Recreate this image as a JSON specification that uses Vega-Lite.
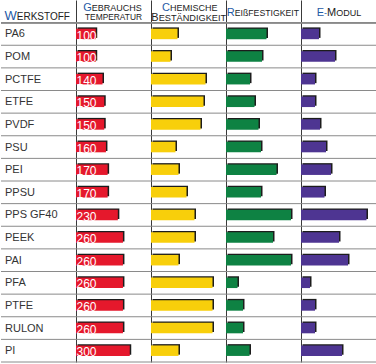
{
  "$schema": "https://vega.github.io/schema/vega-lite/v6.json",
  "padding": 0,
  "spacing": 0,
  "bounds": "flush",
  "background": "white",
  "config": {"view": {"stroke": null}, "font": "Liberation Sans", "text": {"font": "Liberation Sans"}},
  "datasets": {
    "werkstoffe": [
      {"name": "PA6", "temp": 100, "chem": 26.5, "reiss": 40.5, "emod": 18},
      {"name": "POM", "temp": 100, "chem": 19.5, "reiss": 36, "emod": 34},
      {"name": "PCTFE", "temp": 140, "chem": 54.5, "reiss": 24, "emod": 14},
      {"name": "ETFE", "temp": 150, "chem": 52.5, "reiss": 28.5, "emod": 14},
      {"name": "PVDF", "temp": 150, "chem": 49.5, "reiss": 32.5, "emod": 19},
      {"name": "PSU", "temp": 160, "chem": 24.5, "reiss": 35, "emod": 25},
      {"name": "PEI", "temp": 170, "chem": 27.5, "reiss": 50.5, "emod": 30},
      {"name": "PPSU", "temp": 170, "chem": 35.5, "reiss": 35, "emod": 23.5},
      {"name": "PPS GF40", "temp": 230, "chem": 43.5, "reiss": 65, "emod": 65.5},
      {"name": "PEEK", "temp": 260, "chem": 43.5, "reiss": 47, "emod": 38},
      {"name": "PAI", "temp": 260, "chem": 27.5, "reiss": 65, "emod": 47},
      {"name": "PFA", "temp": 260, "chem": 61.5, "reiss": 11.5, "emod": 9},
      {"name": "PTFE", "temp": 260, "chem": 61.5, "reiss": 17, "emod": 14},
      {"name": "RULON", "temp": 260, "chem": 61.5, "reiss": 17, "emod": 14},
      {"name": "PI", "temp": 300, "chem": 27.5, "reiss": 23.5, "emod": 41}
    ]
  },
  "data": {"name": "werkstoffe"},
  "hconcat": [
    {
      "width": 75, "height": 362,
      "layer": [
        {
          "mark": {"type": "rule", "color": "#8a8a8a", "strokeWidth": 1},
          "encoding": {
            "y": {"field": "name", "type": "nominal", "sort": null, "bandPosition": 1,
              "scale": {"domain": ["Werkstoff","PA6","POM","PCTFE","ETFE","PVDF","PSU","PEI","PPSU","PPS GF40","PEEK","PAI","PFA","PTFE","RULON","PI"], "paddingInner": 0, "paddingOuter": 0},
              "axis": {"grid": false, "labels": false, "ticks": false, "domain": false, "title": null, "minExtent": 0, "maxExtent": 0}}
          }
        },
        {
          "mark": {"type": "rule", "color": "#8a8a8a", "strokeWidth": 1},
          "encoding": {"y": {"datum": "Werkstoff", "type": "nominal", "bandPosition": 1}}
        },
        {
          "mark": {"type": "text", "align": "left", "baseline": "middle", "fontSize": 11, "color": "#333333", "dy": 0.5},
          "encoding": {
            "y": {"field": "name", "type": "nominal", "sort": null},
            "x": {"value": 4},
            "text": {"field": "name"}
          }
        },
        {
          "data": {"values": [{"label": "W"}]},
          "mark": {"type": "text", "align": "right", "baseline": "alphabetic", "fontSize": 13, "color": "#1f5aa6", "dy": 8.7},
          "encoding": {"y": {"datum": "Werkstoff", "type": "nominal"}, "x": {"value": 15.8}, "text": {"field": "label"}}
        },
        {
          "data": {"values": [{"label": "ERKSTOFF"}]},
          "mark": {"type": "text", "align": "left", "baseline": "alphabetic", "fontSize": 10, "color": "#222222", "dy": 8.7},
          "encoding": {"y": {"datum": "Werkstoff", "type": "nominal"}, "x": {"value": 15.8}, "text": {"field": "label"}}
        }
      ]
    },
    {
      "width": 75, "height": 362,
      "layer": [
        {
          "mark": {"type": "rule", "color": "#8a8a8a", "strokeWidth": 1},
          "encoding": {
            "y": {"field": "name", "type": "nominal", "sort": null, "bandPosition": 1,
              "scale": {"domain": ["Werkstoff","PA6","POM","PCTFE","ETFE","PVDF","PSU","PEI","PPSU","PPS GF40","PEEK","PAI","PFA","PTFE","RULON","PI"], "paddingInner": 0, "paddingOuter": 0},
              "axis": {"grid": false, "labels": false, "ticks": false, "domain": true, "title": null, "domainColor": "#3a3a3a", "domainWidth": 1, "minExtent": 0, "maxExtent": 0}}
          }
        },
        {
          "mark": {"type": "rule", "color": "#8a8a8a", "strokeWidth": 1},
          "encoding": {"y": {"datum": "Werkstoff", "type": "nominal", "bandPosition": 1}}
        },
        {
          "mark": {"type": "bar", "height": 10.5, "color": "#1c1c1c", "xOffset": 1.5, "x2Offset": 1.5, "yOffset": -1.3},
          "encoding": {
            "y": {"field": "name", "type": "nominal", "sort": null},
            "x": {"field": "temp", "type": "quantitative", "scale": {"domain": [-16, 425], "zero": false, "nice": false}, "axis": null},
            "x2": {"datum": -16}
          }
        },
        {
          "mark": {"type": "bar", "height": 10.5, "color": "#e5182c"},
          "encoding": {
            "y": {"field": "name", "type": "nominal", "sort": null},
            "x": {"field": "temp", "type": "quantitative"},
            "x2": {"datum": -16}
          }
        },
        {
          "mark": {"type": "text", "align": "left", "baseline": "alphabetic", "fontSize": 12, "color": "white", "dx": 0.5, "dy": 5.6},
          "encoding": {
            "y": {"field": "name", "type": "nominal", "sort": null},
            "x": {"datum": -16, "type": "quantitative"},
            "text": {"field": "temp", "type": "quantitative"}
          }
        },
        {
          "data": {"values": [{"label": "G"}]},
          "mark": {"type": "text", "align": "right", "baseline": "alphabetic", "fontSize": 11, "color": "#1f5aa6", "dy": -0.3},
          "encoding": {"y": {"datum": "Werkstoff", "type": "nominal"}, "x": {"value": 15.7}, "text": {"field": "label"}}
        },
        {
          "data": {"values": [{"label": "EBRAUCHS"}]},
          "mark": {"type": "text", "align": "left", "baseline": "alphabetic", "fontSize": 9, "color": "#222222", "dy": -0.3},
          "encoding": {"y": {"datum": "Werkstoff", "type": "nominal"}, "x": {"value": 15.7}, "text": {"field": "label"}}
        },
        {
          "data": {"values": [{"label": "TEMPERATUR"}]},
          "mark": {"type": "text", "align": "center", "baseline": "alphabetic", "fontSize": 8.4, "color": "#222222", "dy": 8.7},
          "encoding": {"y": {"datum": "Werkstoff", "type": "nominal"}, "x": {"value": 37.5}, "text": {"field": "label"}}
        }
      ]
    },
    {
      "width": 75, "height": 362,
      "layer": [
        {
          "mark": {"type": "rule", "color": "#8a8a8a", "strokeWidth": 1},
          "encoding": {
            "y": {"field": "name", "type": "nominal", "sort": null, "bandPosition": 1,
              "scale": {"domain": ["Werkstoff","PA6","POM","PCTFE","ETFE","PVDF","PSU","PEI","PPSU","PPS GF40","PEEK","PAI","PFA","PTFE","RULON","PI"], "paddingInner": 0, "paddingOuter": 0},
              "axis": {"grid": false, "labels": false, "ticks": false, "domain": true, "title": null, "domainColor": "#3a3a3a", "domainWidth": 1, "minExtent": 0, "maxExtent": 0}}
          }
        },
        {
          "mark": {"type": "rule", "color": "#8a8a8a", "strokeWidth": 1},
          "encoding": {"y": {"datum": "Werkstoff", "type": "nominal", "bandPosition": 1}}
        },
        {
          "mark": {"type": "bar", "height": 10.5, "color": "#1c1c1c", "xOffset": 1.5, "x2Offset": 1.5, "yOffset": -1.3},
          "encoding": {
            "y": {"field": "name", "type": "nominal", "sort": null},
            "x": {"field": "chem", "type": "quantitative", "scale": {"domain": [0, 75], "nice": false}, "axis": null}
          }
        },
        {
          "mark": {"type": "bar", "height": 10.5, "color": "#f8cf0b"},
          "encoding": {
            "y": {"field": "name", "type": "nominal", "sort": null},
            "x": {"field": "chem", "type": "quantitative"}
          }
        },
        {
          "data": {"values": [{"label": "C"}]},
          "mark": {"type": "text", "align": "right", "baseline": "alphabetic", "fontSize": 11, "color": "#1f5aa6", "dy": -0.3},
          "encoding": {"y": {"datum": "Werkstoff", "type": "nominal"}, "x": {"value": 19}, "text": {"field": "label"}}
        },
        {
          "data": {"values": [{"label": "HEMISCHE"}]},
          "mark": {"type": "text", "align": "left", "baseline": "alphabetic", "fontSize": 9, "color": "#222222", "dy": -0.3},
          "encoding": {"y": {"datum": "Werkstoff", "type": "nominal"}, "x": {"value": 19}, "text": {"field": "label"}}
        },
        {
          "data": {"values": [{"label": "B"}]},
          "mark": {"type": "text", "align": "right", "baseline": "alphabetic", "fontSize": 11, "color": "#222222", "dy": 9.2},
          "encoding": {"y": {"datum": "Werkstoff", "type": "nominal"}, "x": {"value": 7.7}, "text": {"field": "label"}}
        },
        {
          "data": {"values": [{"label": "ESTÄNDIGKEIT"}]},
          "mark": {"type": "text", "align": "left", "baseline": "alphabetic", "fontSize": 9.2, "color": "#222222", "dy": 9.2},
          "encoding": {"y": {"datum": "Werkstoff", "type": "nominal"}, "x": {"value": 7.7}, "text": {"field": "label"}}
        }
      ]
    },
    {
      "width": 75, "height": 362,
      "layer": [
        {
          "mark": {"type": "rule", "color": "#8a8a8a", "strokeWidth": 1},
          "encoding": {
            "y": {"field": "name", "type": "nominal", "sort": null, "bandPosition": 1,
              "scale": {"domain": ["Werkstoff","PA6","POM","PCTFE","ETFE","PVDF","PSU","PEI","PPSU","PPS GF40","PEEK","PAI","PFA","PTFE","RULON","PI"], "paddingInner": 0, "paddingOuter": 0},
              "axis": {"grid": false, "labels": false, "ticks": false, "domain": true, "title": null, "domainColor": "#3a3a3a", "domainWidth": 1, "minExtent": 0, "maxExtent": 0}}
          }
        },
        {
          "mark": {"type": "rule", "color": "#8a8a8a", "strokeWidth": 1},
          "encoding": {"y": {"datum": "Werkstoff", "type": "nominal", "bandPosition": 1}}
        },
        {
          "mark": {"type": "bar", "height": 10.5, "color": "#1c1c1c", "xOffset": 1.5, "x2Offset": 1.5, "yOffset": -1.3},
          "encoding": {
            "y": {"field": "name", "type": "nominal", "sort": null},
            "x": {"field": "reiss", "type": "quantitative", "scale": {"domain": [0, 75], "nice": false}, "axis": null}
          }
        },
        {
          "mark": {"type": "bar", "height": 10.5, "color": "#0e8243"},
          "encoding": {
            "y": {"field": "name", "type": "nominal", "sort": null},
            "x": {"field": "reiss", "type": "quantitative"}
          }
        },
        {
          "data": {"values": [{"label": "R"}]},
          "mark": {"type": "text", "align": "right", "baseline": "alphabetic", "fontSize": 11, "color": "#1f5aa6", "dy": 4.7},
          "encoding": {"y": {"datum": "Werkstoff", "type": "nominal"}, "x": {"value": 8.8}, "text": {"field": "label"}}
        },
        {
          "data": {"values": [{"label": "EIßFESTIGKEIT"}]},
          "mark": {"type": "text", "align": "left", "baseline": "alphabetic", "fontSize": 8.7, "color": "#222222", "dy": 4.7},
          "encoding": {"y": {"datum": "Werkstoff", "type": "nominal"}, "x": {"value": 8.8}, "text": {"field": "label"}}
        }
      ]
    },
    {
      "width": 76, "height": 362,
      "layer": [
        {
          "mark": {"type": "rule", "color": "#8a8a8a", "strokeWidth": 1},
          "encoding": {
            "y": {"field": "name", "type": "nominal", "sort": null, "bandPosition": 1,
              "scale": {"domain": ["Werkstoff","PA6","POM","PCTFE","ETFE","PVDF","PSU","PEI","PPSU","PPS GF40","PEEK","PAI","PFA","PTFE","RULON","PI"], "paddingInner": 0, "paddingOuter": 0},
              "axis": {"grid": false, "labels": false, "ticks": false, "domain": true, "title": null, "domainColor": "#3a3a3a", "domainWidth": 1, "minExtent": 0, "maxExtent": 0}}
          }
        },
        {
          "mark": {"type": "rule", "color": "#8a8a8a", "strokeWidth": 1},
          "encoding": {"y": {"datum": "Werkstoff", "type": "nominal", "bandPosition": 1}}
        },
        {
          "mark": {"type": "bar", "height": 10.5, "color": "#1c1c1c", "xOffset": 1.5, "x2Offset": 1.5, "yOffset": -1.3},
          "encoding": {
            "y": {"field": "name", "type": "nominal", "sort": null},
            "x": {"field": "emod", "type": "quantitative", "scale": {"domain": [0, 76], "nice": false}, "axis": null}
          }
        },
        {
          "mark": {"type": "bar", "height": 10.5, "color": "#4e3592"},
          "encoding": {
            "y": {"field": "name", "type": "nominal", "sort": null},
            "x": {"field": "emod", "type": "quantitative"}
          }
        },
        {
          "data": {"values": [{"label": "E"}]},
          "mark": {"type": "text", "align": "left", "baseline": "alphabetic", "fontSize": 11, "color": "#1f5aa6", "dy": 4.7},
          "encoding": {"y": {"datum": "Werkstoff", "type": "nominal"}, "x": {"value": 15.8}, "text": {"field": "label"}}
        },
        {
          "data": {"values": [{"label": "-"}]},
          "mark": {"type": "text", "align": "left", "baseline": "alphabetic", "fontSize": 9, "color": "#1f5aa6", "dy": 4.7},
          "encoding": {"y": {"datum": "Werkstoff", "type": "nominal"}, "x": {"value": 23.1}, "text": {"field": "label"}}
        },
        {
          "data": {"values": [{"label": "M"}]},
          "mark": {"type": "text", "align": "left", "baseline": "alphabetic", "fontSize": 11, "color": "#222222", "dy": 4.7},
          "encoding": {"y": {"datum": "Werkstoff", "type": "nominal"}, "x": {"value": 26.1}, "text": {"field": "label"}}
        },
        {
          "data": {"values": [{"label": "ODUL"}]},
          "mark": {"type": "text", "align": "left", "baseline": "alphabetic", "fontSize": 9, "color": "#222222", "dy": 4.7},
          "encoding": {"y": {"datum": "Werkstoff", "type": "nominal"}, "x": {"value": 35.3}, "text": {"field": "label"}}
        }
      ]
    }
  ]
}
